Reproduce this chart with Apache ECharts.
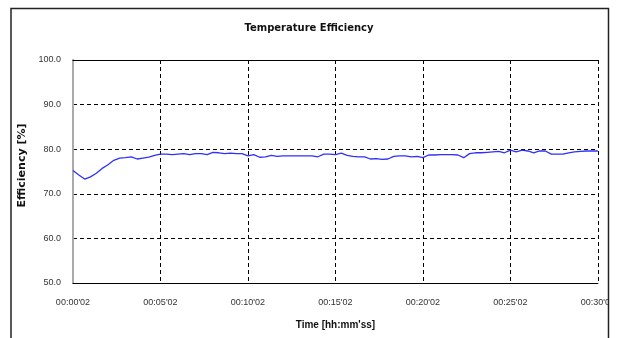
<!DOCTYPE html>
<html>
<head>
<meta charset="utf-8">
<script src="https://cdn.jsdelivr.net/npm/echarts@6/dist/echarts.min.js"></script>
<style>html,body{margin:0;padding:0;background:#fff}#c{width:618px;height:338px}</style>
</head>
<body>
<div id="c"></div>
<script>
// elapsed seconds since start (labels add the 2 s offset)
const timeSeconds = [0,20,40,60,80,100,120,140,160,180,200,220,240,260,280,300,320,340,360,380,400,420,440,460,480,500,520,540,560,580,600,620,640,660,680,700,720,740,760,780,800,820,840,860,880,900,920,940,960,980,1000,1020,1040,1060,1080,1100,1120,1140,1160,1180,1200,1220,1240,1260,1280,1300,1320,1340,1360,1380,1400,1420,1440,1460,1480,1500,1520,1540,1560,1580,1600,1620,1640,1660,1680,1700,1720,1740,1760,1780,1800];
const efficiency = [75.2,74.2,73.3,73.8,74.6,75.7,76.5,77.5,78.0,78.1,78.3,77.8,78.0,78.2,78.6,78.9,78.9,78.8,78.9,79.0,78.8,79.0,79.0,78.8,79.3,79.2,79.0,79.1,79.0,79.0,78.5,78.8,78.2,78.3,78.6,78.4,78.5,78.5,78.5,78.5,78.5,78.5,78.3,78.9,78.9,78.8,79.1,78.6,78.4,78.3,78.3,77.8,77.9,77.7,77.8,78.4,78.5,78.5,78.3,78.4,78.1,78.7,78.7,78.8,78.8,78.8,78.7,78.1,79.0,79.2,79.2,79.3,79.4,79.5,79.2,79.8,79.4,79.8,79.6,79.2,79.6,79.6,78.9,78.9,78.9,79.2,79.4,79.5,79.6,79.6,79.6];
const startOffsetSeconds = 2;
const yTicks = [50, 60, 70, 80, 90, 100];

const data = timeSeconds.map((t, i) => [t, efficiency[i]]);
function fmtTime(t) {
  const s = t + startOffsetSeconds;
  const hh = Math.floor(s / 3600), mm = Math.floor((s % 3600) / 60), ss = s % 60;
  const p = n => String(n).padStart(2, '0');
  return p(hh) + ':' + p(mm) + "'" + p(ss);
}
const font = 'Liberation Sans';
const chart = echarts.init(document.getElementById('c'));
chart.setOption({
  animation: false,
  backgroundColor: '#fff',
  title: {
    text: 'Temperature Efficiency',
    left: 'center', top: 18,
    textStyle: { fontFamily: 'DejaVu Sans', fontSize: 10, fontWeight: 'bold', color: '#111' }
  },
  grid: { left: 73, right: 17, top: 60, bottom: 55 },
  xAxis: [{
    type: 'value', min: 0, max: 1800, interval: 300,
    name: "Time [hh:mm'ss]", nameLocation: 'middle', nameGap: 37,
    nameTextStyle: { fontFamily: font, fontSize: 10, fontWeight: 'bold', color: '#111' },
    axisLine: { show: true, lineStyle: { color: '#000', width: 1 } },
    axisTick: { show: false },
    axisLabel: { formatter: v => fmtTime(v), margin: 15, fontFamily: font, fontSize: 9, color: '#333' },
    splitLine: { show: true, lineStyle: { color: '#000', type: [4, 3], width: 1 } }
  }, {
    type: 'value', position: 'top', min: 0, max: 1800,
    axisLine: { show: true, lineStyle: { color: '#000', width: 1 } },
    axisTick: { show: false }, axisLabel: { show: false }, splitLine: { show: false }
  }],
  yAxis: [{
    type: 'value', min: yTicks[0], max: yTicks[yTicks.length - 1], interval: 10,
    name: 'Efficiency [%]', nameLocation: 'middle', nameGap: 43,
    nameTextStyle: { fontFamily: 'DejaVu Sans', fontSize: 11, fontWeight: 'bold', color: '#111', padding: [0, 0, 0, 12] },
    axisLine: { show: true, lineStyle: { color: '#000', width: 1 } },
    axisTick: { show: false },
    axisLabel: { formatter: v => v.toFixed(1), margin: 12, fontFamily: font, fontSize: 9, color: '#333' },
    splitLine: { show: true, lineStyle: { color: '#000', type: [4, 3], width: 1 } }
  }, {
    type: 'value', position: 'right', min: 50, max: 100,
    axisLine: { show: true, lineStyle: { color: '#aaa', width: 2 } },
    axisTick: { show: false }, axisLabel: { show: false }, splitLine: { show: false }
  }],
  series: [{
    type: 'line', data: data, showSymbol: false, symbol: 'none',
    lineStyle: { color: '#2f2fff', width: 1.3 }, z: 5
  }],
  graphic: [
    { type: 'rect', shape: { x: 609, y: 0, width: 20, height: 338 }, style: { fill: '#fff' }, z: 100 },
    { type: 'polyline', shape: { points: [[11, 338], [11, 8.5], [608.5, 8.5], [608.5, 338]] },
      style: { stroke: '#222', lineWidth: 1.5, fill: null }, z: 101 }
  ]
});
</script>
</body>
</html>
